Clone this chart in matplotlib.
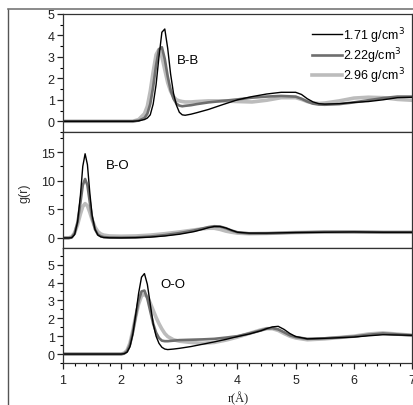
import matplotlib
matplotlib.use("Agg")
import matplotlib.pyplot as plt
from matplotlib.ticker import MultipleLocator
from matplotlib.lines import Line2D

# ---------------- data ----------------
labels = ["1.71 g/cm$^3$", "2.22g/cm$^3$", "2.96 g/cm$^3$"]

# B-B
r_bb = [1.0, 2.0, 2.2, 2.3, 2.4, 2.45, 2.5, 2.55, 2.6, 2.65, 2.7, 2.75, 2.8, 2.85,
        2.9, 2.95, 3.0, 3.05, 3.1, 3.2, 3.3, 3.5, 3.75, 4.0, 4.25, 4.5, 4.75, 5.0,
        5.1, 5.2, 5.3, 5.4, 5.5, 5.75, 6.0, 6.25, 6.5, 6.75, 7.0]
g_bb_171 = [0, 0, 0, 0.02, 0.08, 0.15, 0.3, 0.8, 1.7, 3.0, 4.15, 4.3, 3.4, 2.2,
            1.3, 0.75, 0.42, 0.3, 0.28, 0.33, 0.4, 0.55, 0.78, 1.0, 1.15, 1.27, 1.35, 1.35,
            1.25, 1.05, 0.9, 0.82, 0.8, 0.82, 0.88, 0.92, 1.0, 1.1, 1.12]
g_bb_222 = [0, 0, 0, 0.03, 0.15, 0.35, 0.8, 1.6, 2.6, 3.35, 3.45, 2.9, 2.1, 1.45,
            1.05, 0.82, 0.73, 0.7, 0.72, 0.75, 0.8, 0.88, 0.95, 1.02, 1.1, 1.15, 1.18, 1.15,
            1.05, 0.92, 0.82, 0.78, 0.77, 0.8, 0.88, 0.98, 1.08, 1.15, 1.15]
g_bb_296 = [0, 0, 0, 0.08, 0.35, 0.7, 1.4, 2.3, 3.1, 3.35, 3.0, 2.4, 1.8, 1.4,
            1.15, 1.0, 0.95, 0.92, 0.9, 0.9, 0.92, 0.95, 0.95, 0.92, 0.9, 0.98, 1.1, 1.1,
            1.02, 0.92, 0.85, 0.83, 0.85, 0.95, 1.08, 1.12, 1.1, 1.02, 0.98]

# B-O
r_bo = [1.0, 1.1, 1.15, 1.2, 1.25, 1.3, 1.34, 1.38, 1.42, 1.46, 1.5, 1.55, 1.6,
        1.65, 1.7, 1.8, 2.0, 2.25, 2.5, 2.75, 3.0, 3.25, 3.4, 3.5, 3.6, 3.7, 3.8,
        3.9, 4.0, 4.2, 4.5, 5.0, 5.5, 6.0, 6.5, 7.0]
g_bo_171 = [0, 0, 0.05, 0.6, 2.8, 7.5, 12.5, 14.7, 12.8, 8.0, 4.0, 1.5, 0.5,
            0.2, 0.08, 0.03, 0.02, 0.05, 0.15, 0.35, 0.65, 1.1, 1.5, 1.8, 2.0, 2.0, 1.75,
            1.35, 1.0, 0.85, 0.85, 0.95, 1.0, 1.05, 1.0, 1.0]
g_bo_222 = [0, 0, 0.1, 0.8, 2.8, 6.2, 9.2, 10.3, 9.2, 6.3, 3.5, 1.5, 0.6,
            0.3, 0.15, 0.08, 0.05, 0.1, 0.25, 0.5, 0.85, 1.3, 1.65, 1.9, 2.05, 2.0, 1.7,
            1.3, 1.0, 0.8, 0.8, 0.95, 1.05, 1.05, 1.0, 1.0]
g_bo_296 = [0, 0.02, 0.2, 0.9, 2.3, 4.2, 5.5, 6.0, 5.6, 4.5, 3.2, 1.9, 1.1,
            0.7, 0.5, 0.35, 0.3, 0.35, 0.5, 0.75, 1.05, 1.4, 1.6, 1.7, 1.7, 1.5, 1.2,
            1.0, 0.85, 0.75, 0.8, 0.95, 1.05, 1.05, 1.0, 1.0]

# O-O
r_oo = [1.0, 1.9, 2.0, 2.05, 2.1, 2.15, 2.2, 2.25, 2.3, 2.35, 2.4, 2.45, 2.5, 2.55,
        2.6, 2.65, 2.7, 2.75, 2.8, 2.9, 3.0, 3.2, 3.4, 3.6, 3.8, 4.0, 4.2, 4.4, 4.5,
        4.6, 4.7, 4.8, 4.9, 5.0, 5.2, 5.5, 6.0, 6.25, 6.5, 7.0]
g_oo_171 = [0, 0, 0, 0.02, 0.1, 0.4, 1.1, 2.2, 3.4, 4.3, 4.5, 3.9, 2.8, 1.7,
            1.0, 0.6, 0.38, 0.28, 0.25, 0.28, 0.32, 0.42, 0.55, 0.68, 0.82, 0.98, 1.12, 1.3, 1.42,
            1.52, 1.55, 1.38, 1.15, 0.98, 0.85, 0.88, 0.95, 1.02, 1.08, 1.05]
g_oo_222 = [0, 0, 0, 0.03, 0.15, 0.5, 1.2, 2.1, 3.0, 3.5, 3.55, 3.1, 2.4, 1.7,
            1.2, 0.9, 0.75, 0.72, 0.72, 0.75, 0.78, 0.8, 0.82, 0.85, 0.92, 1.0, 1.15, 1.32, 1.42,
            1.45, 1.38, 1.22, 1.05, 0.95, 0.85, 0.88, 0.98, 1.08, 1.15, 1.05]
g_oo_296 = [0, 0, 0, 0.05, 0.2, 0.6, 1.3, 2.1, 2.8, 3.25, 3.35, 3.2, 2.85, 2.45,
            2.05, 1.7, 1.4, 1.15, 0.98, 0.8, 0.72, 0.65, 0.6, 0.65, 0.78, 0.95, 1.15, 1.35, 1.42,
            1.42, 1.32, 1.15, 1.0, 0.9, 0.8, 0.85, 1.0, 1.12, 1.18, 1.05]

panel_names = ["B-B", "B-O", "O-O"]
x_ticks = [1, 2, 3, 4, 5, 6, 7]

# ---------------- style ----------------
plt.rcParams['font.family'] = ['Liberation Sans', 'DejaVu Sans']
W, H = 414, 406
fig = plt.figure(figsize=(W / 100, H / 100), dpi=100)

colors = ['#000000', '#6e6e6e', '#bcbcbc']
widths = [1.0, 1.9, 2.6]

def fy(px):
    return 1 - px / H

left = 63 / W
width = (412 - 63) / W
boxes = [(15, 133), (133, 249), (249, 364)]
ylims = [(-0.5, 5.0), (-1.75, 18.5), (-0.5, 5.93)]
ymaj = [1, 5, 1]
ymin = [0.5, 2.5, 0.5]
text_pos = [(2.96, 2.85), (1.74, 12.7), (2.67, 3.9)]

data = [
    (r_bb, [g_bb_171, g_bb_222, g_bb_296]),
    (r_bo, [g_bo_171, g_bo_222, g_bo_296]),
    (r_oo, [g_oo_171, g_oo_222, g_oo_296]),
]

axes = []
for i, ((top, bot), (r, gs)) in enumerate(zip(boxes, data)):
    ax = fig.add_axes([left, fy(bot), width, (bot - top) / H])
    handles = [None, None, None]
    for k in [2, 1, 0]:
        ln, = ax.plot(r, gs[k], color=colors[k], lw=widths[k], label=labels[k],
                      solid_joinstyle='round')
        handles[k] = ln
    ax.set_xlim(1, 7)
    ax.set_ylim(*ylims[i])
    ax.xaxis.set_major_locator(MultipleLocator(1))
    ax.xaxis.set_minor_locator(MultipleLocator(0.2))
    ax.yaxis.set_major_locator(MultipleLocator(ymaj[i]))
    ax.yaxis.set_minor_locator(MultipleLocator(ymin[i]))
    ax.tick_params(axis='both', which='major', direction='out', length=4, width=0.9,
                   labelsize=9, colors='#222222', pad=2)
    ax.tick_params(axis='both', which='minor', direction='out', length=2.5, width=0.8)
    ax.set_yticks([t for t in range(0, 20, ymaj[i]) if ylims[i][0] <= t <= ylims[i][1] + 0.01])
    if i < 2:
        ax.tick_params(axis='x', labelbottom=False)
    for s in ax.spines.values():
        s.set_linewidth(0.9)
        s.set_color('#333333')
    ax.text(*text_pos[i], panel_names[i], fontsize=9.5, va='center', ha='left')
    if i == 0:
        ax.legend(handles=handles, loc='upper right', frameon=False, fontsize=9,
                  handlelength=2.4, handletextpad=0.1, labelspacing=0.05,
                  borderaxespad=0.0, bbox_to_anchor=(0.995, 0.95))
    axes.append(ax)

axes[2].set_xticks(x_ticks)
axes[2].tick_params(axis='x', which='major', pad=4)

fig.text(238 / W, fy(399), "r(Å)", family=['Liberation Serif', 'DejaVu Serif'],
         fontsize=9, ha='center', va='center', color='#222222')

fig.text(25 / W, fy(193), "g(r)", rotation=90, fontsize=9, ha='center', va='center',
         color='#333333')

# page frame lines
fig.add_artist(Line2D([8 / W, 8 / W], [fy(10), 0], transform=fig.transFigure,
                      color='#555555', lw=1.0))
fig.add_artist(Line2D([8 / W, 1], [fy(10), fy(10)], transform=fig.transFigure,
                      color='#777777', lw=1.2))

fig.savefig("out.png", dpi=100)
